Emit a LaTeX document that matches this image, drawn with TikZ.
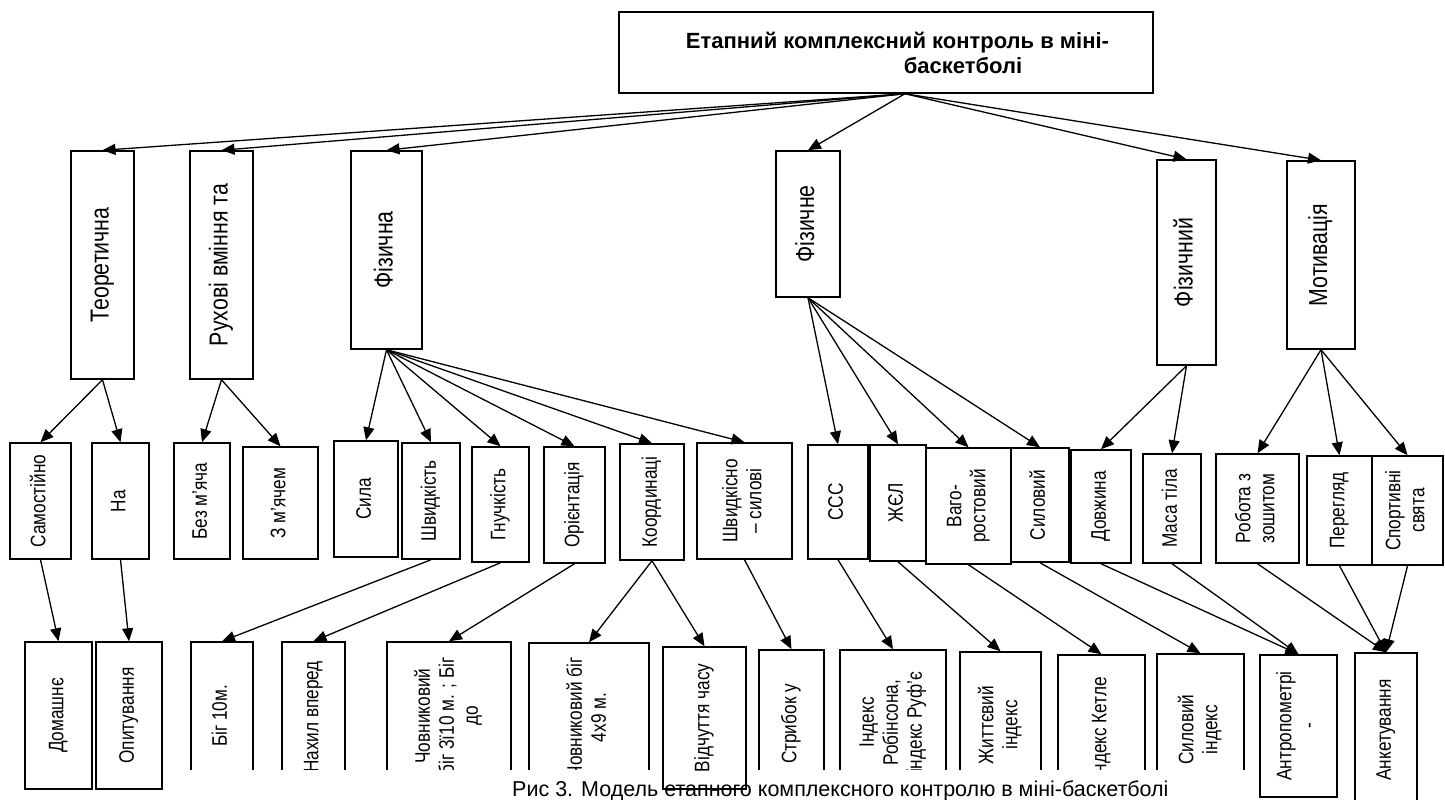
\documentclass[tikz,border=0pt]{standalone}
\usepackage{fontspec}
\usepackage{graphicx}
\setmainfont{Liberation Sans}
\newfontfamily\narrowfont[FakeStretch=0.82]{Liberation Sans}
\usetikzlibrary{arrows.meta}
\newcommand{\vtext}[1]{\rotatebox{90}{\begin{tabular}{@{}c@{}}#1\end{tabular}}}
\tikzset{
  box/.style={draw, line width=1.5pt, inner sep=0pt},
  wh/.style 2 args={minimum width=#1pt, minimum height=#2pt},
  lvlone/.style={font=\narrowfont\fontsize{26}{30}\selectfont},
  lvltwo/.style={font=\narrowfont\fontsize{21}{24}\selectfont},
  conn/.style={-{Triangle[length=13pt,width=11pt]}, line width=1.3pt},
}
\begin{document}
\begin{tikzpicture}[x=1pt, y=-1pt]
    \useasboundingbox (0,0) rectangle (1445,800);

    \node[box, wh={534}{81}, align=center, font=\bfseries\fontsize{22}{25}\selectfont] (title) at (886,52.5)
        {\hspace*{23pt}Етапний комплексний контроль в міні-\\\hspace*{154pt}баскетболі};
    \coordinate (hub) at ([xshift=19pt]title.south);

    \node[box, lvlone, wh={63}{228}] (teor) at (102.5,265) {\vtext{Теоретична}};
    \node[box, lvlone, wh={63}{228}] (rukh) at (221.5,265) {\vtext{Рухові вміння та}};
    \node[box, lvlone, wh={71}{198}] (fizna) at (386.5,250) {\vtext{Фізична}};
    \node[box, lvlone, wh={64}{146}] (fizne) at (808,224) {\vtext{Фізичне}};
    \node[box, lvlone, wh={59}{205}] (fizny) at (1186.5,262.5) {\vtext{Фізичний}};
    \node[box, lvlone, wh={68}{188}] (motyv) at (1321,255) {\vtext{Мотивація}};

    \node[box, lvltwo, wh={61}{116}] (samo) at (40.5,501) {\vtext{Самостійно}};
    \node[box, lvltwo, wh={57}{116}] (na) at (120.5,501) {\vtext{На}};
    \node[box, lvltwo, wh={56}{116}] (bezm) at (202,501) {\vtext{Без м’яча}};
    \node[box, lvltwo, wh={75}{112}] (zmyach) at (280.5,503) {\vtext{З м’ячем}};
    \node[box, lvltwo, wh={64}{116}] (syla) at (366,499) {\vtext{Сила}};
    \node[box, lvltwo, wh={58}{116}] (shvyd) at (431,501) {\vtext{Швидкість}};
    \node[box, lvltwo, wh={57}{115}] (hnuch) at (500.5,504.5) {\vtext{Гнучкість}};
    \node[box, lvltwo, wh={61}{116}] (orient) at (574.5,505) {\vtext{Орієнтація}};
    \node[box, lvltwo, wh={64}{116}] (koord) at (652,502) {\vtext{Координаці}};
    \node[box, lvltwo, wh={95}{116}] (shvsyl) at (744.5,501) {\vtext{Швидкісно\\– силові}};
    \node[box, lvltwo, wh={60}{114}] (sss) at (838,502) {\vtext{ССС}};
    \node[box, lvltwo, wh={56}{116}] (zhel) at (898,503) {\vtext{ЖЄЛ}};
    \node[box, lvltwo, wh={85}{116}] (vaho) at (968.5,506) {\vtext{Ваго-\\ростовий}};
    \node[box, lvltwo, wh={58}{114}] (sylovyi) at (1040,505) {\vtext{Силовий}};
    \node[box, lvltwo, wh={60}{113}] (dovzh) at (1101,506.5) {\vtext{Довжина}};
    \node[box, lvltwo, wh={58}{109}] (masa) at (1172,508.5) {\vtext{Маса тіла}};
    \node[box, lvltwo, wh={83}{109}] (robota) at (1257.5,508.5) {\vtext{Робота з\\зошитом}};
    \node[box, lvltwo, wh={65}{109}] (perehl) at (1339.5,510.5) {\vtext{Перегляд}};
    \node[box, lvltwo, wh={71}{109}] (sport) at (1407.5,510.5) {\vtext{Спортивні\\свята}};

    \node[box, lvltwo, wh={67}{147}] (domash) at (58.5,715.5) {\vtext{Домашнє}};
    \node[box, lvltwo, wh={66}{147}] (opyt) at (129,715.5) {\vtext{Опитування}};
    \node[box, lvltwo, wh={62}{148}] (bih) at (222,716) {\vtext{Біг 10м.}};
    \node[box, lvltwo, wh={63}{150}] (nakhyl) at (313.5,717) {\vtext{Нахил вперед}};
    \node[box, lvltwo, wh={124}{148}] (chovn) at (449,716) {\vtext{Човниковий\\біг 3ї10 м. ; Біг\\до}};
    \node[box, lvltwo, wh={120}{149}] (chovnb) at (589,717.5) {\vtext{Човниковий біг\\4х9 м.}};
    \node[box, lvltwo, wh={65}{148}] (strybok) at (791.5,724) {\vtext{Стрибок у}};
    \node[box, lvltwo, wh={106}{145}] (robins) at (893,722.5) {\vtext{Індекс\\Робінсона,\\індекс Руф’є}};
    \node[box, lvltwo, wh={81}{146}] (zhytt) at (1000.5,725) {\vtext{Життєвий\\індекс}};
    \node[box, lvltwo, wh={87}{145}] (ketle) at (1101.5,727.5) {\vtext{Індекс Кетле}};
    \node[box, lvltwo, wh={87}{151}] (sylind) at (1200.5,729.5) {\vtext{Силовий\\індекс}};
    \node[box, lvltwo, wh={77}{142}] (antrop) at (1298.5,726) {\vtext{Антропометрі\\-}};
    \node[box, lvltwo, wh={62}{154}] (anket) at (1386,730) {\vtext{Анкетування}};

    \draw[conn] (hub) -- (teor.north);
    \draw[conn] (hub) -- (rukh.north);
    \draw[conn] (hub) -- (fizna.north);
    \draw[conn] (hub) -- (fizne.north);
    \draw[conn] (hub) -- (fizny.north);
    \draw[conn] (hub) -- (motyv.north);

    \draw[conn] (teor.south) -- (samo.north);
    \draw[conn] (teor.south) -- (na.north);
    \draw[conn] (rukh.south) -- (bezm.north);
    \draw[conn] (rukh.south) -- (zmyach.north);
    \draw[conn] (fizna.south) -- (syla.north);
    \draw[conn] (fizna.south) -- (shvyd.north);
    \draw[conn] (fizna.south) -- (hnuch.north);
    \draw[conn] (fizna.south) -- (orient.north);
    \draw[conn] (fizna.south) -- (koord.north);
    \draw[conn] (fizna.south) -- (shvsyl.north);
    \draw[conn] (fizne.south) -- (sss.north);
    \draw[conn] (fizne.south) -- (zhel.north);
    \draw[conn] (fizne.south) -- (vaho.north);
    \draw[conn] (fizne.south) -- (sylovyi.north);
    \draw[conn] (fizny.south) -- (dovzh.north);
    \draw[conn] (fizny.south) -- (masa.north);
    \draw[conn] (motyv.south) -- (robota.north);
    \draw[conn] (motyv.south) -- (perehl.north);
    \draw[conn] (motyv.south) -- (sport.north);

    \draw[conn] (samo.south) -- (domash.north);
    \draw[conn] (na.south) -- (opyt.north);
    \draw[conn] (shvyd.south) -- (bih.north);
    \draw[conn] (hnuch.south) -- (nakhyl.north);
    \draw[conn] (orient.south) -- (chovn.north);
    \draw[conn] (koord.south) -- (chovnb.north);
    \draw[conn] (shvsyl.south) -- (strybok.north);
    \draw[conn] (sss.south) -- (robins.north);
    \draw[conn] (zhel.south) -- (zhytt.north);
    \draw[conn] (vaho.south) -- (ketle.north);
    \draw[conn] (sylovyi.south) -- (sylind.north);
    \draw[conn] (dovzh.south) -- (antrop.north);
    \draw[conn] (masa.south) -- (antrop.north);
    \draw[conn] (robota.south) -- (anket.north);
    \draw[conn] (perehl.south) -- (anket.north);
    \draw[conn] (sport.south) -- (anket.north);

    \fill[white] (175,770) rectangle (1250,805);
    \node[anchor=base west, inner sep=0pt, font=\fontsize{21.5}{24}\selectfont] (caption) at (512,796)
        {Рис 3. Модель етапного комплексного контролю в міні-баскетболі};

    \node[box, lvltwo, wh={83}{142}] (vidch) at (704.5,718) {\vtext{Відчуття часу}};
    \draw[conn] (koord.south) -- (vidch.north);
\end{tikzpicture}
\end{document}
